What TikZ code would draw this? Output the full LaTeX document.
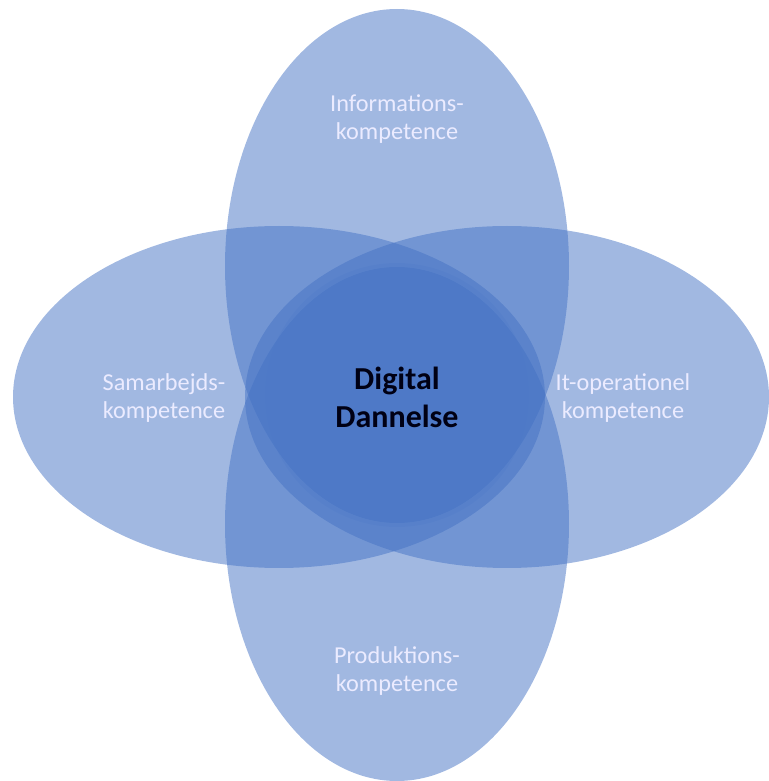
\documentclass[tikz,border=0pt]{standalone}
\usepackage{fontspec}
\setmainfont{Carlito}
\definecolor{petalblue}{HTML}{4472C4}
\begin{document}
\begin{tikzpicture}[x=0.01cm,y=0.01cm,
  petal/.style={fill=petalblue,fill opacity=0.5},
  lbl/.style={text=white!92!blue,align=center,inner sep=0pt,font=\fontsize{6.9}{8.2}\selectfont}]
  \useasboundingbox (0,0) rectangle (769,781);
  % the four competences
  \fill[petal] (397,515) ellipse (172 and 257);
  \fill[petal] (397,257) ellipse (172 and 257);
  \fill[petal] (279,384) ellipse (266 and 171);
  \fill[petal] (507,384) ellipse (262 and 171);
  % centre
  \fill[petalblue,fill opacity=0.15] (397,386) circle (132);
  \node[lbl] (info) at (397,662) {Informations-\\kompetence};
  \node[lbl] (samarb) at (164,383) {Samarbejds-\\kompetence};
  \node[lbl] (itop) at (623,383) {It-operationel\\kompetence};
  \node[lbl] (prod) at (397,110) {Produktions-\\kompetence};
  \node[align=center,inner sep=0pt,text=black!92!blue,
    font=\fontsize{9.1}{10.8}\selectfont\bfseries] (dd) at (397,384) {Digital\\Dannelse};
\end{tikzpicture}
\end{document}
